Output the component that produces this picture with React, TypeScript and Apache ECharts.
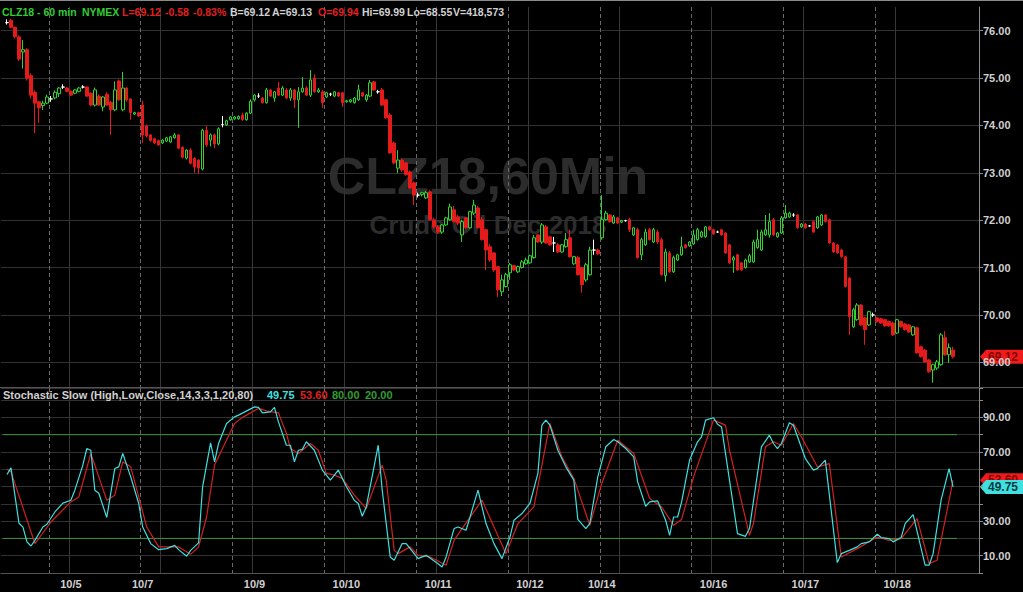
import React, { useEffect, useRef } from 'react';
import * as echarts from 'echarts';

// Hourly candles, one array per trading session: [open, close, low, high]
const S_1004 = [
  [76.17, 76.17, 76.13, 76.24], [76.22, 76.07, 76.05, 76.25], [76.07, 75.87, 75.84, 76.09],
  [75.87, 75.40, 75.36, 75.90], [75.55, 75.60, 75.20, 75.80], [75.60, 75.00, 74.95, 75.63],
  [75.05, 74.64, 74.57, 75.10], [74.70, 74.47, 73.84, 74.74], [74.50, 74.37, 74.05, 74.52],
  [74.42, 74.47, 74.33, 74.52], [74.47, 74.60, 74.45, 74.65],
];
const S_1005 = [
  [74.56, 74.56, 74.50, 74.62], [74.58, 74.70, 74.55, 74.74], [74.67, 74.79, 74.60, 74.81],
  [74.81, 74.81, 74.77, 74.87], [74.79, 74.72, 74.70, 74.81], [74.72, 74.64, 74.62, 74.74],
  [74.68, 74.75, 74.66, 74.77], [74.72, 74.79, 74.70, 74.81], [74.81, 74.81, 74.78, 74.85],
  [74.81, 74.62, 74.60, 74.83], [74.68, 74.43, 74.40, 74.70], [74.43, 74.75, 74.40, 74.80],
  [74.62, 74.43, 74.42, 74.66], [74.39, 74.60, 74.30, 74.62], [74.66, 74.43, 74.42, 74.70],
  [74.49, 74.33, 73.80, 74.52], [74.33, 74.75, 74.30, 74.93], [74.94, 74.54, 74.52, 74.97],
  [74.33, 74.79, 74.30, 75.13], [74.79, 74.54, 74.50, 74.81], [74.56, 74.27, 74.12, 74.58],
  [74.24, 74.27, 74.22, 74.29], [74.27, 74.20, 74.18, 74.29],
];
const S_1008 = [
  [74.43, 73.80, 73.63, 74.52], [73.99, 73.78, 73.75, 74.02], [73.80, 73.68, 73.66, 73.82],
  [73.72, 73.63, 73.61, 73.74], [73.68, 73.59, 73.57, 73.70], [73.63, 73.69, 73.61, 73.71],
  [73.67, 73.74, 73.65, 73.76], [73.65, 73.76, 73.63, 73.78], [73.74, 73.80, 73.72, 73.84],
  [73.80, 73.52, 73.50, 73.82], [73.54, 73.33, 73.30, 73.56], [73.31, 73.48, 73.28, 73.50],
  [73.48, 73.20, 73.18, 73.52], [73.31, 73.12, 73.00, 73.33], [73.27, 73.10, 72.98, 73.29],
  [73.08, 73.90, 73.05, 73.93], [73.90, 73.59, 73.55, 73.99], [73.69, 73.80, 73.56, 73.83],
  [73.80, 73.61, 73.52, 73.83], [73.61, 73.93, 73.58, 73.96], [74.02, 74.02, 73.96, 74.20],
  [74.01, 74.10, 73.99, 74.12], [74.12, 74.18, 74.10, 74.20],
];
const S_1009 = [
  [74.14, 74.18, 74.12, 74.20], [74.14, 74.19, 74.12, 74.21], [74.22, 74.12, 74.10, 74.27],
  [74.12, 74.26, 74.10, 74.28], [74.26, 74.51, 74.24, 74.55], [74.54, 74.64, 74.50, 74.66],
  [74.62, 74.62, 74.58, 74.68], [74.58, 74.48, 74.46, 74.60], [74.48, 74.75, 74.46, 74.79],
  [74.75, 74.62, 74.60, 74.77], [74.58, 74.71, 74.50, 74.73], [74.79, 74.64, 74.62, 74.92],
  [74.64, 74.79, 74.62, 74.83], [74.75, 74.58, 74.56, 74.79], [74.58, 74.75, 74.52, 74.79],
  [74.75, 74.54, 74.37, 74.77], [74.54, 74.71, 73.95, 74.81], [74.71, 74.79, 74.69, 75.02],
  [74.79, 74.64, 74.62, 74.83], [74.64, 74.96, 74.60, 75.17], [75.00, 74.71, 74.69, 75.08],
  [74.71, 74.75, 74.69, 74.79], [74.71, 74.48, 74.37, 74.75],
];
const S_1010 = [
  [74.60, 74.69, 74.58, 74.71], [74.66, 74.66, 74.62, 74.69], [74.62, 74.71, 74.60, 74.73],
  [74.69, 74.62, 74.60, 74.71], [74.69, 74.48, 74.39, 74.71], [74.50, 74.52, 74.48, 74.54],
  [74.50, 74.54, 74.48, 74.56], [74.48, 74.58, 74.46, 74.60], [74.54, 74.75, 74.52, 74.86],
  [74.69, 74.62, 74.60, 74.71], [74.54, 74.64, 74.50, 74.66], [74.62, 74.90, 74.60, 74.96],
  [74.92, 74.75, 74.73, 74.94], [74.71, 74.71, 74.67, 74.75], [74.75, 74.43, 74.41, 74.79],
  [74.54, 74.16, 74.14, 74.56], [74.22, 73.42, 73.40, 74.26], [73.63, 73.21, 73.18, 73.66],
  [73.10, 73.27, 73.00, 73.48], [73.27, 73.06, 73.02, 73.30], [73.21, 72.96, 72.94, 73.23],
  [73.02, 72.68, 72.66, 73.05], [72.79, 72.53, 72.32, 72.82],
];
const S_1011 = [
  [72.53, 72.53, 72.48, 72.58], [72.54, 72.58, 72.50, 72.60], [72.47, 72.58, 72.45, 72.62],
  [72.60, 72.01, 71.99, 72.63], [72.01, 71.86, 71.82, 72.05], [71.86, 71.75, 71.71, 71.90],
  [71.75, 71.90, 71.71, 71.92], [71.90, 72.05, 71.88, 72.07], [72.01, 72.28, 71.99, 72.35],
  [72.22, 71.97, 71.95, 72.30], [72.07, 71.94, 71.90, 72.11], [71.69, 71.97, 71.54, 72.01],
  [72.05, 71.84, 71.80, 72.07], [71.84, 72.18, 71.82, 72.20], [72.15, 72.32, 72.11, 72.43],
  [72.26, 71.84, 71.82, 72.30], [72.01, 71.59, 71.57, 72.07], [71.80, 71.37, 70.95, 71.82],
  [71.44, 71.16, 71.12, 71.50], [71.31, 70.95, 70.91, 71.33], [71.02, 70.53, 70.38, 71.04],
  [70.49, 70.74, 70.40, 70.85], [70.60, 70.85, 70.58, 70.89],
];
const S_1012 = [
  [70.89, 71.06, 70.74, 71.10], [71.04, 70.95, 70.93, 71.06], [70.91, 71.02, 70.89, 71.04],
  [71.00, 71.12, 70.98, 71.16], [71.08, 71.16, 71.06, 71.21], [71.10, 71.25, 71.08, 71.27],
  [71.21, 71.63, 71.19, 71.69], [71.69, 71.54, 71.52, 71.71], [71.54, 71.90, 71.50, 71.94],
  [71.86, 71.52, 71.50, 71.90], [71.65, 71.48, 71.46, 71.67], [71.52, 71.52, 71.33, 71.65],
  [71.48, 71.33, 71.31, 71.52], [71.33, 71.48, 71.31, 71.50], [71.44, 71.59, 71.42, 71.73],
  [71.63, 71.23, 71.21, 71.80], [71.08, 71.23, 71.06, 71.25], [71.21, 70.85, 70.83, 71.25],
  [71.00, 70.64, 70.47, 71.02], [70.74, 71.06, 70.70, 71.10], [70.85, 71.37, 70.83, 71.44],
  [71.37, 71.37, 71.27, 71.59], [71.37, 71.29, 71.27, 71.40],
];
const S_1015 = [
  [71.63, 72.01, 71.59, 72.53], [72.01, 72.15, 71.99, 72.20], [72.11, 71.97, 71.95, 72.13],
  [71.94, 72.07, 71.92, 72.11], [72.05, 71.94, 71.92, 72.07], [71.96, 71.99, 71.94, 72.01],
  [71.99, 71.99, 71.97, 72.01], [72.01, 71.80, 71.75, 72.05], [71.69, 71.84, 71.67, 71.86],
  [71.80, 71.21, 71.19, 71.84], [71.27, 71.59, 71.16, 71.63], [71.48, 71.75, 71.46, 71.82],
  [71.80, 71.59, 71.57, 71.84], [71.54, 71.80, 71.52, 71.84], [71.75, 71.54, 71.50, 71.80],
  [71.59, 70.85, 70.83, 71.63], [70.83, 71.33, 70.70, 71.40], [71.31, 70.91, 70.89, 71.35],
  [70.91, 71.21, 70.89, 71.25], [71.16, 71.27, 71.14, 71.29], [71.27, 71.44, 71.25, 71.65],
  [71.48, 71.42, 71.40, 71.50], [71.46, 71.54, 71.44, 71.56],
];
const S_1016 = [
  [71.50, 71.69, 71.48, 71.80], [71.59, 71.80, 71.57, 71.84], [71.65, 71.75, 71.63, 71.78],
  [71.65, 71.86, 71.63, 71.88], [71.86, 71.80, 71.78, 71.88], [71.80, 71.71, 71.69, 71.82],
  [71.75, 71.75, 71.73, 71.78], [71.80, 71.69, 71.67, 71.82], [71.73, 71.31, 71.29, 71.75],
  [71.48, 71.10, 71.08, 71.50], [71.16, 71.21, 70.89, 71.25], [71.27, 70.95, 70.93, 71.29],
  [71.10, 70.95, 70.93, 71.12], [71.00, 71.16, 70.98, 71.19], [71.12, 71.25, 71.10, 71.29],
  [71.12, 71.54, 71.10, 71.59], [71.42, 71.59, 71.40, 71.80], [71.37, 71.75, 71.35, 71.80],
  [71.69, 71.80, 71.67, 72.11], [71.69, 71.97, 71.63, 72.15], [72.01, 71.69, 71.67, 72.05],
  [71.65, 71.73, 71.63, 71.75], [71.73, 72.05, 71.71, 72.09],
];
const S_1017 = [
  [72.05, 72.15, 72.03, 72.32], [72.07, 72.15, 72.05, 72.18], [72.11, 72.11, 72.07, 72.15],
  [72.11, 71.84, 71.82, 72.13], [71.86, 71.92, 71.84, 71.94], [71.92, 71.84, 71.82, 71.94],
  [71.88, 71.88, 71.86, 71.90], [71.97, 71.75, 71.73, 71.99], [71.84, 72.07, 71.82, 72.09],
  [71.90, 72.11, 71.88, 72.13], [72.11, 71.97, 71.95, 72.13], [72.01, 71.52, 71.50, 72.03],
  [71.52, 71.33, 71.31, 71.54], [71.48, 71.31, 71.29, 71.50], [71.37, 71.23, 71.21, 71.40],
  [71.23, 70.60, 70.58, 71.25], [70.78, 69.96, 69.58, 70.80], [69.75, 70.11, 69.73, 70.15],
  [69.90, 70.21, 69.88, 70.25], [70.21, 69.79, 69.77, 70.23], [69.94, 69.69, 69.37, 69.96],
  [69.79, 70.07, 69.77, 70.09], [70.00, 70.00, 69.96, 70.05],
];
const S_1018 = [
  [69.94, 69.86, 69.84, 69.96], [69.92, 69.83, 69.81, 69.94], [69.90, 69.77, 69.75, 69.92],
  [69.86, 69.77, 69.75, 69.88], [69.83, 69.58, 69.56, 69.86], [69.62, 69.90, 69.60, 69.92],
  [69.86, 69.75, 69.73, 69.88], [69.81, 69.69, 69.67, 69.83], [69.79, 69.64, 69.62, 69.81],
  [69.58, 69.75, 69.56, 69.77], [69.73, 69.20, 69.18, 69.75], [69.33, 69.12, 69.10, 69.35],
  [69.26, 69.01, 68.99, 69.28], [69.05, 68.80, 68.78, 69.07], [68.84, 68.95, 68.57, 68.97],
  [68.88, 69.01, 68.84, 69.05], [68.95, 69.58, 68.93, 69.62], [69.52, 69.16, 69.14, 69.66],
  [69.16, 69.31, 68.99, 69.40], [69.26, 69.12, 69.08, 69.33],
];

// Stochastic slow %K (cyan) and %D (red): [bar index, value]
const STOCH_K = [
  [0, 57], [1, 60.8], [3, 28.8], [4, 26.5], [5, 18.0], [6, 15.6], [7, 18.9], [9, 26.6], [10, 28.2],
  [12, 35.3], [14, 40.4], [16, 42.1], [17, 47.9], [19, 62.4], [20, 72.0], [21, 71.0], [22, 47.9],
  [23, 46.1], [25, 32.1], [27, 60.4], [28, 61.4], [29, 69.1], [30, 62.4], [31, 55.6], [33, 40.2],
  [34, 26.6], [36, 17.0], [38, 13.5], [40, 14.1], [42, 16.0], [43, 13.5], [45, 9.7], [46, 13.1],
  [48, 17.4], [49, 49.8], [51, 75.3], [52, 64.3], [53, 74.9], [55, 86.5], [57, 90.3], [58, 91.3],
  [62, 96.1], [63, 95.8], [64, 92.6], [66, 93.2], [67, 95.8], [68, 87.4], [70, 73.9], [71, 73.9],
  [72, 64.3], [73, 71.0], [74, 71.5], [75, 75.9], [77, 71.0], [79, 59.5], [81, 53.7], [83, 59.5],
  [85, 50.0], [87, 42.1], [88, 40.2], [89, 32.8], [90, 38.2], [93, 73.9], [94, 47.9], [96, 9.3],
  [97, 7.4], [99, 17.0], [100, 17.0], [103, 8.3], [104, 9.3], [105, 10.2], [108, 5.4], [109, 3.5],
  [110, 9.3], [112, 25.7], [113, 26.6], [115, 24.7], [118, 47.9], [120, 28.6], [122, 17.0],
  [124, 8.3], [126, 20.8], [127, 30.5], [129, 34.4], [131, 40.2], [133, 57.6], [134, 85.5],
  [135, 88.4], [136, 85.5], [138, 71.0], [139, 66.2], [140, 61.4], [142, 53.7], [143, 31.0],
  [145, 25.7], [146, 28.6], [148, 55.6], [150, 73.0], [152, 77.2], [153, 75.9], [155, 72.0],
  [157, 67.2], [158, 52.7], [160, 38.6], [161, 41.1], [163, 41.7], [165, 30.5], [166, 21.8],
  [167, 32.4], [168, 32.4], [169, 41.1], [171, 65.3], [173, 75.9], [174, 78.8], [175, 88.4],
  [177, 89.8], [178, 86.1], [179, 84.5], [183, 22.8], [185, 21.2], [186, 25.7], [189, 73.0],
  [191, 79.7], [192, 74.9], [193, 72.0], [194, 74.9], [196, 86.9], [197, 85.5], [200, 66.2],
  [202, 59.5], [203, 60.4], [205, 65.3], [208, 6.0], [209, 11.2], [211, 13.1], [213, 15.1],
  [214, 17.0], [216, 18.0], [218, 22.4], [219, 20.5], [221, 19.9], [222, 18.0], [224, 20.5],
  [225, 28.6], [227, 33.8], [230, 4.5], [231, 4.5], [232, 11.2], [234, 42.1], [236, 60.4],
  [237, 49.75],
];
const STOCH_D = [
  [0, 60], [1, 58.5], [7, 17.0], [11, 29.5], [16, 41.1], [18, 44.0], [21, 69.1], [23, 55.6],
  [25, 42.1], [27, 45.0], [29, 64.3], [31, 61.4], [35, 26.6], [38, 15.1], [40, 15.1], [43, 15.1],
  [46, 10.8], [48, 15.1], [50, 32.4], [52, 62.4], [54, 72.0], [57, 86.5], [59, 90.0], [63, 95.2],
  [65, 93.8], [68, 92.6], [70, 80.7], [71, 72.0], [73, 69.1], [76, 74.9], [78, 71.0], [80, 57.6],
  [82, 56.6], [84, 54.7], [87, 45.0], [90, 37.3], [94, 62.4], [95, 53.7], [97, 13.1], [98, 11.2],
  [101, 15.1], [103, 10.2], [106, 9.3], [110, 4.5], [112, 18.9], [114, 25.7], [119, 42.1],
  [125, 11.2], [128, 28.6], [132, 38.2], [136, 86.5], [139, 67.2], [142, 54.7], [146, 27.6],
  [149, 51.8], [153, 76.8], [157, 69.1], [161, 43.1], [164, 38.2], [167, 27.6], [169, 31.0],
  [172, 55.6], [177, 88.4], [180, 85.5], [181, 71.0], [186, 21.8], [187, 28.6], [190, 73.0],
  [192, 75.9], [194, 73.9], [197, 86.5], [199, 78.8], [203, 61.4], [206, 63.3], [209, 9.3],
  [213, 14.1], [218, 20.8], [221, 18.9], [224, 19.9], [228, 31.5], [231, 5.4], [233, 7.4],
  [237, 53.6],
];

const PRICE_TICKS = [69, 70, 71, 72, 73, 74, 75, 76];
const STOCH_LABELS = [10, 30, 70, 90];
const STOCH_LEVELS = [80, 20];
const SESSION_STARTS = [11, 34, 57, 80, 103, 126, 149, 172, 195, 218];
const DAY_LINES = [16, 39, 62, 85, 108, 131, 154, 177, 200, 223];
const DATE_LABEL_BARS = [16, 34, 62, 85, 108, 131, 149, 177, 200, 223];
const DATE_LABELS = ['10/5', '10/7', '10/9', '10/10', '10/11', '10/12', '10/14', '10/16', '10/17', '10/18'];

const OFF = 1; // one empty slot before the first bar
const SLOTS = 245;
const FONT = '"Liberation Sans", Arial, sans-serif';
const UP = '#2fd42f';
const DOWN = '#e41b1b';
const CYAN = '#3fe0e0';
const GRID = '#313131';
const TXT = '#d0d0d0';

export default function App() {
  const ref = useRef<HTMLDivElement>(null);
  useEffect(() => {
    const el = ref.current!;
    const chart = echarts.init(el, null, { renderer: 'svg' });
    const candles = [...S_1004, ...S_1005, ...S_1008, ...S_1009, ...S_1010, ...S_1011, ...S_1012, ...S_1015, ...S_1016, ...S_1017, ...S_1018];
    const cats = Array.from({ length: SLOTS }, (_, i) => String(i));
    const sessionSet = new Set(SESSION_STARTS.map((i) => i + OFF));
    const daySet = new Set(DAY_LINES.map((i) => i + OFF));
    const labelMap = new Map(DATE_LABEL_BARS.map((b, k) => [b + OFF, DATE_LABELS[k]]));
    const lastBar = candles.length - 1;

    const hidden = { show: false };
    const xBase = (grid: number, pos: string) => ({
      type: 'category', gridIndex: grid, data: cats, boundaryGap: true, position: pos,
      axisLine: hidden, axisTick: hidden, axisLabel: hidden,
    });

    chart.setOption({
      animation: false,
      backgroundColor: '#000',
      grid: [
        { left: 1, right: 44, top: 7, height: 380 },
        { left: 1, right: 44, top: 388, height: 185 },
      ],
      xAxis: [
        { ...xBase(0, 'bottom'), splitLine: { show: true, interval: (i: number) => daySet.has(i), lineStyle: { color: '#363636', width: 1 } } },
        { ...xBase(0, 'top'), splitLine: { show: true, interval: (i: number) => sessionSet.has(i), lineStyle: { color: '#6a6a6a', type: [4, 3], width: 1 } } },
        {
          ...xBase(1, 'bottom'),
          axisLine: { show: true, lineStyle: { color: '#555' } },
          axisLabel: {
            show: true, interval: (i: number) => labelMap.has(i), formatter: (_v: string, i: number) => labelMap.get(i) || '',
            color: TXT, fontWeight: 'bold', fontSize: 11, fontFamily: FONT, margin: 5,
          },
          splitLine: { show: true, interval: (i: number) => daySet.has(i), lineStyle: { color: '#363636', width: 1 } },
        },
        { ...xBase(1, 'top'), splitLine: { show: true, interval: (i: number) => sessionSet.has(i), lineStyle: { color: '#6a6a6a', type: [4, 3], width: 1 } } },
      ],
      yAxis: [
        {
          type: 'value', gridIndex: 0, position: 'right', min: 68.48, max: 76.5,
          axisLine: { show: true, lineStyle: { color: '#8a8a8a' } },
          axisTick: { show: true, length: 4, customValues: PRICE_TICKS, lineStyle: { color: '#8a8a8a' } },
          axisLabel: { customValues: PRICE_TICKS, formatter: (v: number) => v.toFixed(2), color: TXT, fontWeight: 'bold', fontSize: 11, fontFamily: FONT, margin: 4 },
          splitLine: { show: true, lineStyle: { color: GRID } },
        },
        {
          type: 'value', gridIndex: 1, position: 'right', min: 0, max: 107, interval: 10,
          axisLine: { show: true, lineStyle: { color: '#8a8a8a' } },
          axisTick: { show: true, length: 4, lineStyle: { color: '#8a8a8a' } },
          axisLabel: { customValues: STOCH_LABELS, formatter: (v: number) => v.toFixed(2), color: TXT, fontWeight: 'bold', fontSize: 11, fontFamily: FONT, margin: 4 },
          splitLine: { show: true, lineStyle: { color: GRID } },
        },
      ],
      series: [
        {
          type: 'candlestick', xAxisIndex: 0, yAxisIndex: 0, barWidth: 3,
          data: candles.map((c, i) => [i + OFF, c[0], c[1], c[2], c[3]]),
          encode: { x: 0, y: [1, 2, 3, 4] },
          itemStyle: { color: '#000', color0: DOWN, borderColor: UP, borderColor0: DOWN, borderColorDoji: '#ffffff', borderWidth: 1 },
        },
        ...STOCH_LEVELS.map((lv) => ({
          type: 'line', xAxisIndex: 2, yAxisIndex: 1, symbol: 'none', silent: true,
          data: [[0, lv], [lastBar + OFF + 1, lv]],
          lineStyle: { color: '#3d933d', width: 1 },
        })),
        {
          type: 'line', xAxisIndex: 2, yAxisIndex: 1, symbol: 'none',
          data: STOCH_D.map(([i, v]) => [i + OFF, v]), lineStyle: { color: '#d42020', width: 1.2 },
        },
        {
          type: 'line', xAxisIndex: 2, yAxisIndex: 1, symbol: 'none',
          data: STOCH_K.map(([i, v]) => [i + OFF, v]), lineStyle: { color: CYAN, width: 1.2 },
        },
      ],
    });

    const lastClose = candles[lastBar][1];
    const lastK = STOCH_K[STOCH_K.length - 1][1];
    const lastD = STOCH_D[STOCH_D.length - 1][1];
    const yP = chart.convertToPixel({ yAxisIndex: 0 }, lastClose) as number;
    const yK = chart.convertToPixel({ yAxisIndex: 1 }, lastK) as number;
    const yD = chart.convertToPixel({ yAxisIndex: 1 }, lastD) as number;

    const tag = (y: number, fill: string, textColor: string, text: string) => ({
      type: 'group', z: 100, children: [
        { type: 'polygon', shape: { points: [[980, y], [986, y - 7], [1023, y - 7], [1023, y + 7], [986, y + 7]] }, style: { fill } },
        { type: 'text', x: 988, y, style: { text, fill: textColor, font: `bold 12px ${FONT}`, verticalAlign: 'middle', align: 'left' } },
      ],
    });
    const HFONT = `bold 10.5px ${FONT}`;
    const t = (x: number, y: number, text: string, fill: string, font = `bold 11px ${FONT}`) => ({
      type: 'text', x, y, z: 50, style: { text, fill, font, verticalAlign: 'middle', align: 'left' },
    });

    chart.setOption({
      graphic: [
        { type: 'rect', z: 50, shape: { x: 0, y: 0, width: 1023, height: 1 }, style: { fill: '#8a8a8a' } },
        { type: 'line', z: 50, shape: { x1: 0, y1: 387.5, x2: 1023, y2: 387.5 }, style: { stroke: '#555', lineWidth: 1 } },
        { type: 'text', x: 488, y: 176, z: -1, style: { text: 'CLZ18,60Min', fill: '#2c2c2c', font: `bold 52px ${FONT}`, align: 'center', verticalAlign: 'middle' } },
        { type: 'text', x: 488, y: 225, z: -1, style: { text: 'Crude Oil Dec 2018', fill: '#2c2c2c', font: `bold 26px ${FONT}`, align: 'center', verticalAlign: 'middle' } },
        t(2, 12, 'CLZ18 - 60 min', '#33cc33', HFONT),
        t(82, 12, 'NYMEX', '#33cc33', HFONT),
        t(122, 12, 'L=69.12', '#e02020', HFONT),
        t(165, 12, '-0.58', '#e02020', HFONT),
        t(193, 12, '-0.83%', '#e02020', HFONT),
        t(230, 12, 'B=69.12', TXT, HFONT),
        t(272, 12, 'A=69.13', TXT, HFONT),
        t(318, 12, 'O=69.94', '#e02020', HFONT),
        t(362, 12, 'Hi=69.99', TXT, HFONT),
        t(407, 12, 'Lo=68.55', TXT, HFONT),
        t(453, 12, 'V=418,573', TXT, HFONT),
        t(3, 395, 'Stochastic Slow (High,Low,Close,14,3,3,1,20,80)', TXT),
        t(267, 395, '49.75', CYAN),
        t(300, 395, '53.60', '#e02020'),
        t(332, 395, '80.00', '#2e9e2e'),
        t(365, 395, '20.00', '#2e9e2e'),
        tag(yP, '#ee1c1c', '#8a0000', lastClose.toFixed(2)),
        tag(yD, '#ee1c1c', '#8a0000', lastD.toFixed(2)),
        tag(yK, '#3fe0e0', '#063a40', lastK.toFixed(2)),
      ],
    });

    return () => chart.dispose();
  }, []);
  return <div ref={ref} style={{ position: 'absolute', left: 0, top: 0, width: 1023, height: 592, background: '#000' }} />;
}
